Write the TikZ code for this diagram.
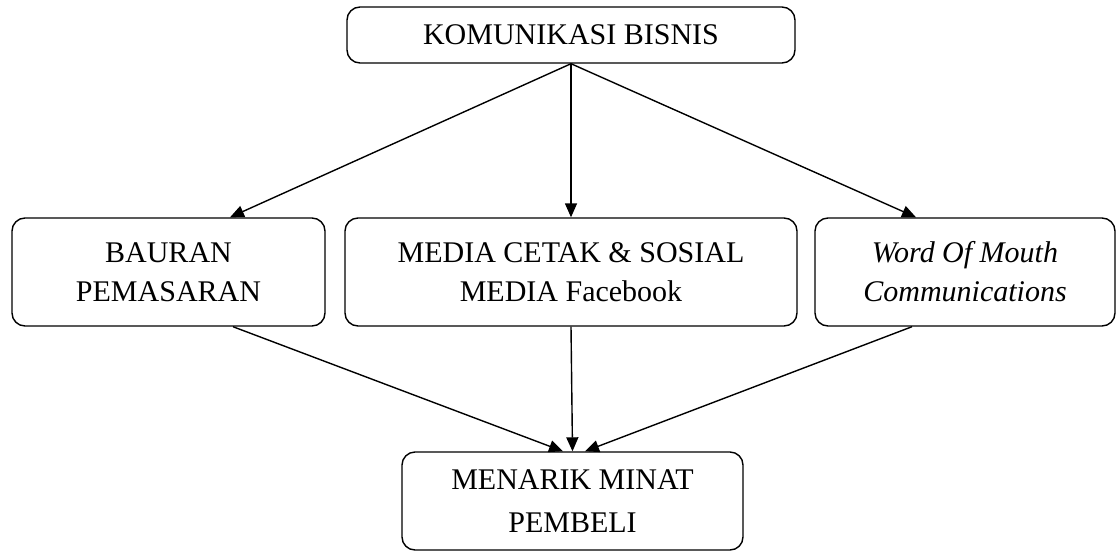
\documentclass[tikz,border=0pt]{standalone}
\usepackage{fontspec}
\setmainfont{Liberation Serif}
\usetikzlibrary{arrows.meta}
\begin{document}
\begin{tikzpicture}[x=1pt,y=-1pt,
  box/.style={draw, line width=1.4pt, rounded corners=13pt, align=center,
    inner sep=0pt, font=\fontsize{30}{39}\selectfont},
  conn/.style={line width=1.4pt, -{Triangle[length=14pt,width=12pt]}}]
\useasboundingbox (0,0) rectangle (1116,552);
\node[box, minimum width=448pt, minimum height=56pt] (top) at (571,35) {KOMUNIKASI BISNIS};
\node[box, minimum width=313pt, minimum height=108pt] (left) at (168.5,272) {BAURAN\\PEMASARAN};
\node[box, minimum width=452pt, minimum height=108pt] (mid) at (571,272) {MEDIA CETAK \& SOSIAL\\MEDIA Facebook};
\node[box, minimum width=300pt, minimum height=108pt] (right) at (965,272) {\itshape Word Of Mouth\\\itshape Communications};
\node[box, minimum width=341pt, minimum height=98pt, font=\fontsize{30}{43}\selectfont] (bot) at (572.5,501) {MENARIK MINAT\\PEMBELI};
\draw[conn] (top.south) -- ([xshift=61.5pt]left.north);
\draw[conn] (top.south) -- (mid.north);
\draw[conn] (top.south) -- ([xshift=-49pt]right.north);
\draw[conn] ([xshift=64.5pt]left.south) -- ([xshift=-9.5pt]bot.north);
\draw[conn] (mid.south) -- (bot.north);
\draw[conn] ([xshift=-53pt]right.south) -- ([xshift=12.5pt]bot.north);
\end{tikzpicture}
\end{document}
